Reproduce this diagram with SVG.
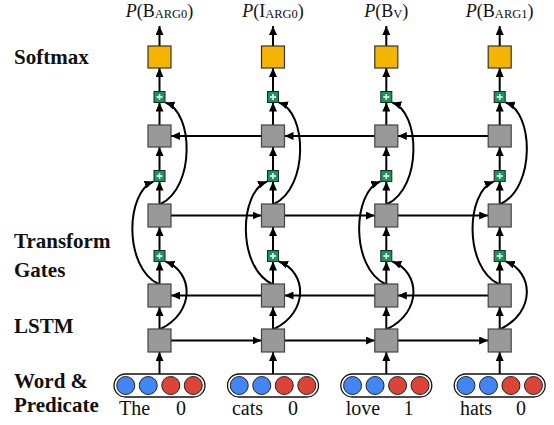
<svg xmlns="http://www.w3.org/2000/svg" width="554" height="425" viewBox="0 0 554 425">
<defs>
<style>
text{font-family:'Liberation Serif','Times New Roman',Times,serif;fill:#111}
.lbl{font-weight:bold;font-size:21px}
.word{font-size:20px}
.top{font-size:18px}
.sub{font-size:12.5px}
.sm{fill:#F4B400;stroke:#333;stroke-width:1.2}
.gr{fill:#999;stroke:#444;stroke-width:1.2}
.pl{fill:#12995A;stroke:#222;stroke-width:1}
.ps{stroke:#fff;stroke-width:1.5}
.pill{fill:#fff;stroke:#111;stroke-width:1.3}
.b{fill:#4285F4;stroke:#222;stroke-width:1}
.r{fill:#DB4437;stroke:#222;stroke-width:1}
.ar{fill:none;stroke:#000;stroke-width:2;marker-end:url(#ah)}
</style>
<marker id="ah" markerUnits="userSpaceOnUse" markerWidth="10" markerHeight="8" refX="9" refY="4" orient="auto">
<path d="M0,0 L9,4 L0,8 z" fill="#000"/>
</marker>
</defs>
<rect width="554" height="425" fill="#fff"/>
<g id="labels" font-family="Liberation Serif, Times New Roman, serif">
<text class="lbl" x="14" y="64" font-family="Liberation Serif, serif">Softmax</text>
<text class="lbl" x="14" y="248" font-family="Liberation Serif, serif">Transform</text>
<text class="lbl" x="14" y="276.5" font-family="Liberation Serif, serif">Gates</text>
<text class="lbl" x="14" y="333" font-family="Liberation Serif, serif">LSTM</text>
<text class="lbl" x="14" y="388" font-family="Liberation Serif, serif">Word &amp;</text>
<text class="lbl" x="14" y="412" font-family="Liberation Serif, serif">Predicate</text>
</g>
<g id="outputs">
<text class="top" x="159.5" y="17" text-anchor="middle" font-family="Liberation Serif, serif"><tspan font-style="italic">P</tspan>(B<tspan class="sub" dy="1">ARG0</tspan><tspan dy="-1">)</tspan></text>
<text class="top" x="273" y="17" text-anchor="middle" font-family="Liberation Serif, serif"><tspan font-style="italic">P</tspan>(I<tspan class="sub" dy="1">ARG0</tspan><tspan dy="-1">)</tspan></text>
<text class="top" x="386.3" y="17" text-anchor="middle" font-family="Liberation Serif, serif"><tspan font-style="italic">P</tspan>(B<tspan class="sub" dy="1">V</tspan><tspan dy="-1">)</tspan></text>
<text class="top" x="499.7" y="17" text-anchor="middle" font-family="Liberation Serif, serif"><tspan font-style="italic">P</tspan>(B<tspan class="sub" dy="1">ARG1</tspan><tspan dy="-1">)</tspan></text>
</g>
<g id="connectors">
<path class="ar" d="M159.5,46 V26"/><path class="ar" d="M159.5,91.5 V68"/><path class="ar" d="M159.5,125 V102.5"/><path class="ar" d="M159.5,170.5 V147"/><path class="ar" d="M159.5,204 V181.5"/><path class="ar" d="M159.5,250.5 V227"/><path class="ar" d="M159.5,284 V261.5"/><path class="ar" d="M159.5,329 V307"/><path class="ar" d="M159.5,374 V352"/>
<path class="ar" d="M273,46 V26"/><path class="ar" d="M273,91.5 V68"/><path class="ar" d="M273,125 V102.5"/><path class="ar" d="M273,170.5 V147"/><path class="ar" d="M273,204 V181.5"/><path class="ar" d="M273,250.5 V227"/><path class="ar" d="M273,284 V261.5"/><path class="ar" d="M273,329 V307"/><path class="ar" d="M273,374 V352"/>
<path class="ar" d="M386.3,46 V26"/><path class="ar" d="M386.3,91.5 V68"/><path class="ar" d="M386.3,125 V102.5"/><path class="ar" d="M386.3,170.5 V147"/><path class="ar" d="M386.3,204 V181.5"/><path class="ar" d="M386.3,250.5 V227"/><path class="ar" d="M386.3,284 V261.5"/><path class="ar" d="M386.3,329 V307"/><path class="ar" d="M386.3,374 V352"/>
<path class="ar" d="M499.7,46 V26"/><path class="ar" d="M499.7,91.5 V68"/><path class="ar" d="M499.7,125 V102.5"/><path class="ar" d="M499.7,170.5 V147"/><path class="ar" d="M499.7,204 V181.5"/><path class="ar" d="M499.7,250.5 V227"/><path class="ar" d="M499.7,284 V261.5"/><path class="ar" d="M499.7,329 V307"/><path class="ar" d="M499.7,374 V352"/>
<path class="ar" d="M261.5,136 H171"/>
<path class="ar" d="M374.8,136 H284.5"/>
<path class="ar" d="M488.2,136 H397.8"/>
<path class="ar" d="M171,215.5 H261.5"/>
<path class="ar" d="M284.5,215.5 H374.8"/>
<path class="ar" d="M397.8,215.5 H488.2"/>
<path class="ar" d="M261.5,295.5 H171"/>
<path class="ar" d="M374.8,295.5 H284.5"/>
<path class="ar" d="M488.2,295.5 H397.8"/>
<path class="ar" d="M171,340.5 H261.5"/>
<path class="ar" d="M284.5,340.5 H374.8"/>
<path class="ar" d="M397.8,340.5 H488.2"/>
<path class="ar" d="M160.5,329 C195.5,312 193.5,272 165.5,261.5"/>
<path class="ar" d="M158.5,284 C123.5,267 125.5,192 153.5,181.5"/>
<path class="ar" d="M160.5,204 C195.5,187 193.5,112 165.5,102.5"/>
<path class="ar" d="M274,329 C309,312 307,272 279,261.5"/>
<path class="ar" d="M272,284 C237,267 239,192 267,181.5"/>
<path class="ar" d="M274,204 C309,187 307,112 279,102.5"/>
<path class="ar" d="M387.3,329 C422.3,312 420.3,272 392.3,261.5"/>
<path class="ar" d="M385.3,284 C350.3,267 352.3,192 380.3,181.5"/>
<path class="ar" d="M387.3,204 C422.3,187 420.3,112 392.3,102.5"/>
<path class="ar" d="M500.7,329 C535.7,312 533.7,272 505.7,261.5"/>
<path class="ar" d="M498.7,284 C463.7,267 465.7,192 493.7,181.5"/>
<path class="ar" d="M500.7,204 C535.7,187 533.7,112 505.7,102.5"/>
</g>
<g id="col1">
<rect class="sm" x="148" y="46" width="23" height="22"/>
<rect class="pl" x="154" y="91.5" width="11" height="11"/><path class="ps" d="M156.5,97 H162.5 M159.5,94 V100"/>
<rect class="gr" x="148" y="125" width="23" height="22"/>
<rect class="pl" x="154" y="170.5" width="11" height="11"/><path class="ps" d="M156.5,176 H162.5 M159.5,173 V179"/>
<rect class="gr" x="148" y="204" width="23" height="23"/>
<rect class="pl" x="154" y="250.5" width="11" height="11"/><path class="ps" d="M156.5,256 H162.5 M159.5,253 V259"/>
<rect class="gr" x="148" y="284" width="23" height="23"/>
<rect class="gr" x="148" y="329" width="23" height="23"/>
<rect class="pill" x="114" y="374" width="91" height="23" rx="11.5"/>
<circle class="b" cx="125.75" cy="385.5" r="9"/><circle class="b" cx="148.25" cy="385.5" r="9"/><circle class="r" cx="170.75" cy="385.5" r="9"/><circle class="r" cx="193.25" cy="385.5" r="9"/>
<text class="word" x="134.5" y="415" text-anchor="middle" font-family="Liberation Serif, serif">The</text>
<text class="word" x="181" y="415" text-anchor="middle" font-family="Liberation Serif, serif">0</text>
</g>
<g id="col2">
<rect class="sm" x="261.5" y="46" width="23" height="22"/>
<rect class="pl" x="267.5" y="91.5" width="11" height="11"/><path class="ps" d="M270,97 H276 M273,94 V100"/>
<rect class="gr" x="261.5" y="125" width="23" height="22"/>
<rect class="pl" x="267.5" y="170.5" width="11" height="11"/><path class="ps" d="M270,176 H276 M273,173 V179"/>
<rect class="gr" x="261.5" y="204" width="23" height="23"/>
<rect class="pl" x="267.5" y="250.5" width="11" height="11"/><path class="ps" d="M270,256 H276 M273,253 V259"/>
<rect class="gr" x="261.5" y="284" width="23" height="23"/>
<rect class="gr" x="261.5" y="329" width="23" height="23"/>
<rect class="pill" x="227.5" y="374" width="91" height="23" rx="11.5"/>
<circle class="b" cx="239.25" cy="385.5" r="9"/><circle class="b" cx="261.75" cy="385.5" r="9"/><circle class="r" cx="284.25" cy="385.5" r="9"/><circle class="r" cx="306.75" cy="385.5" r="9"/>
<text class="word" x="247.5" y="415" text-anchor="middle" font-family="Liberation Serif, serif">cats</text>
<text class="word" x="293" y="415" text-anchor="middle" font-family="Liberation Serif, serif">0</text>
</g>
<g id="col3">
<rect class="sm" x="374.8" y="46" width="23" height="22"/>
<rect class="pl" x="380.8" y="91.5" width="11" height="11"/><path class="ps" d="M383.3,97 H389.3 M386.3,94 V100"/>
<rect class="gr" x="374.8" y="125" width="23" height="22"/>
<rect class="pl" x="380.8" y="170.5" width="11" height="11"/><path class="ps" d="M383.3,176 H389.3 M386.3,173 V179"/>
<rect class="gr" x="374.8" y="204" width="23" height="23"/>
<rect class="pl" x="380.8" y="250.5" width="11" height="11"/><path class="ps" d="M383.3,256 H389.3 M386.3,253 V259"/>
<rect class="gr" x="374.8" y="284" width="23" height="23"/>
<rect class="gr" x="374.8" y="329" width="23" height="23"/>
<rect class="pill" x="340.8" y="374" width="91" height="23" rx="11.5"/>
<circle class="b" cx="352.55" cy="385.5" r="9"/><circle class="b" cx="375.05" cy="385.5" r="9"/><circle class="r" cx="397.55" cy="385.5" r="9"/><circle class="r" cx="420.05" cy="385.5" r="9"/>
<text class="word" x="363" y="415" text-anchor="middle" font-family="Liberation Serif, serif">love</text>
<text class="word" x="408.5" y="415" text-anchor="middle" font-family="Liberation Serif, serif">1</text>
</g>
<g id="col4">
<rect class="sm" x="488.2" y="46" width="23" height="22"/>
<rect class="pl" x="494.2" y="91.5" width="11" height="11"/><path class="ps" d="M496.7,97 H502.7 M499.7,94 V100"/>
<rect class="gr" x="488.2" y="125" width="23" height="22"/>
<rect class="pl" x="494.2" y="170.5" width="11" height="11"/><path class="ps" d="M496.7,176 H502.7 M499.7,173 V179"/>
<rect class="gr" x="488.2" y="204" width="23" height="23"/>
<rect class="pl" x="494.2" y="250.5" width="11" height="11"/><path class="ps" d="M496.7,256 H502.7 M499.7,253 V259"/>
<rect class="gr" x="488.2" y="284" width="23" height="23"/>
<rect class="gr" x="488.2" y="329" width="23" height="23"/>
<rect class="pill" x="454.2" y="374" width="91" height="23" rx="11.5"/>
<circle class="b" cx="465.95" cy="385.5" r="9"/><circle class="b" cx="488.45" cy="385.5" r="9"/><circle class="r" cx="510.95" cy="385.5" r="9"/><circle class="r" cx="533.45" cy="385.5" r="9"/>
<text class="word" x="476" y="415" text-anchor="middle" font-family="Liberation Serif, serif">hats</text>
<text class="word" x="521" y="415" text-anchor="middle" font-family="Liberation Serif, serif">0</text>
</g>
</svg>
